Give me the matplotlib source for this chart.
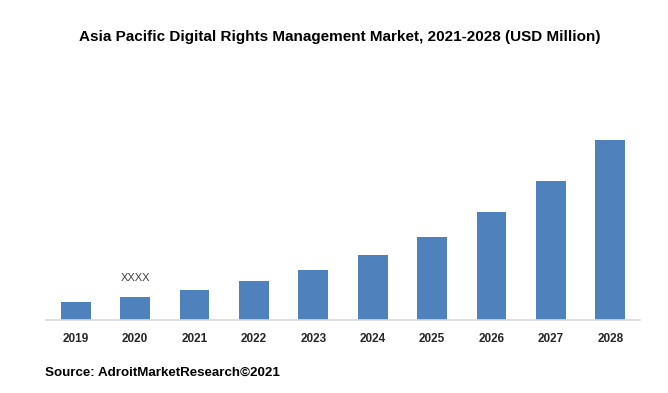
import matplotlib.pyplot as plt

years = ["2019", "2020", "2021", "2022", "2023", "2024", "2025", "2026", "2027", "2028"]
values = [18, 23, 30, 39, 50, 65, 83, 108, 139, 180]
bar_note = "XXXX"
note_year = "2020"

plt.rcParams['font.family'] = ['Liberation Sans', 'DejaVu Sans']

fig = plt.figure(figsize=(6.68, 3.93), dpi=100)
W, H = 668, 393
ax = fig.add_axes([46 / W, (H - 320) / H, (640 - 46) / W, 220 / H])

x = range(len(years))
ax.bar(x, values, width=0.5, color="#4F81BD")
ax.set_xlim(-0.5, len(years) - 0.5)
ax.set_ylim(0, 220)

ax.set_xticks(list(x))
ax.set_xticklabels(years, fontsize=8.5, fontweight="bold", color="#262626")
ax.tick_params(axis="x", length=0, pad=9)
ax.set_yticks([])

for side in ["top", "right", "left"]:
    ax.spines[side].set_visible(False)
ax.spines["bottom"].set_color("#D9D9D9")
ax.spines["bottom"].set_linewidth(1.2)

i = years.index(note_year)
ax.annotate(bar_note, (i, values[i]), xytext=(0, 10), textcoords="offset points",
            ha="center", va="bottom", fontsize=8, color="#404040")

fig.text(340 / W, 1 - 37 / H, "Asia Pacific Digital Rights Management Market, 2021-2028 (USD Million)",
         ha="center", va="center", fontsize=11, fontweight="bold", color="black")
fig.text(45 / W, 1 - 373 / H, "Source: AdroitMarketResearch\u00a92021",
         ha="left", va="center", fontsize=9.6, fontweight="bold", color="black")

fig.savefig("out.png", dpi=100)
